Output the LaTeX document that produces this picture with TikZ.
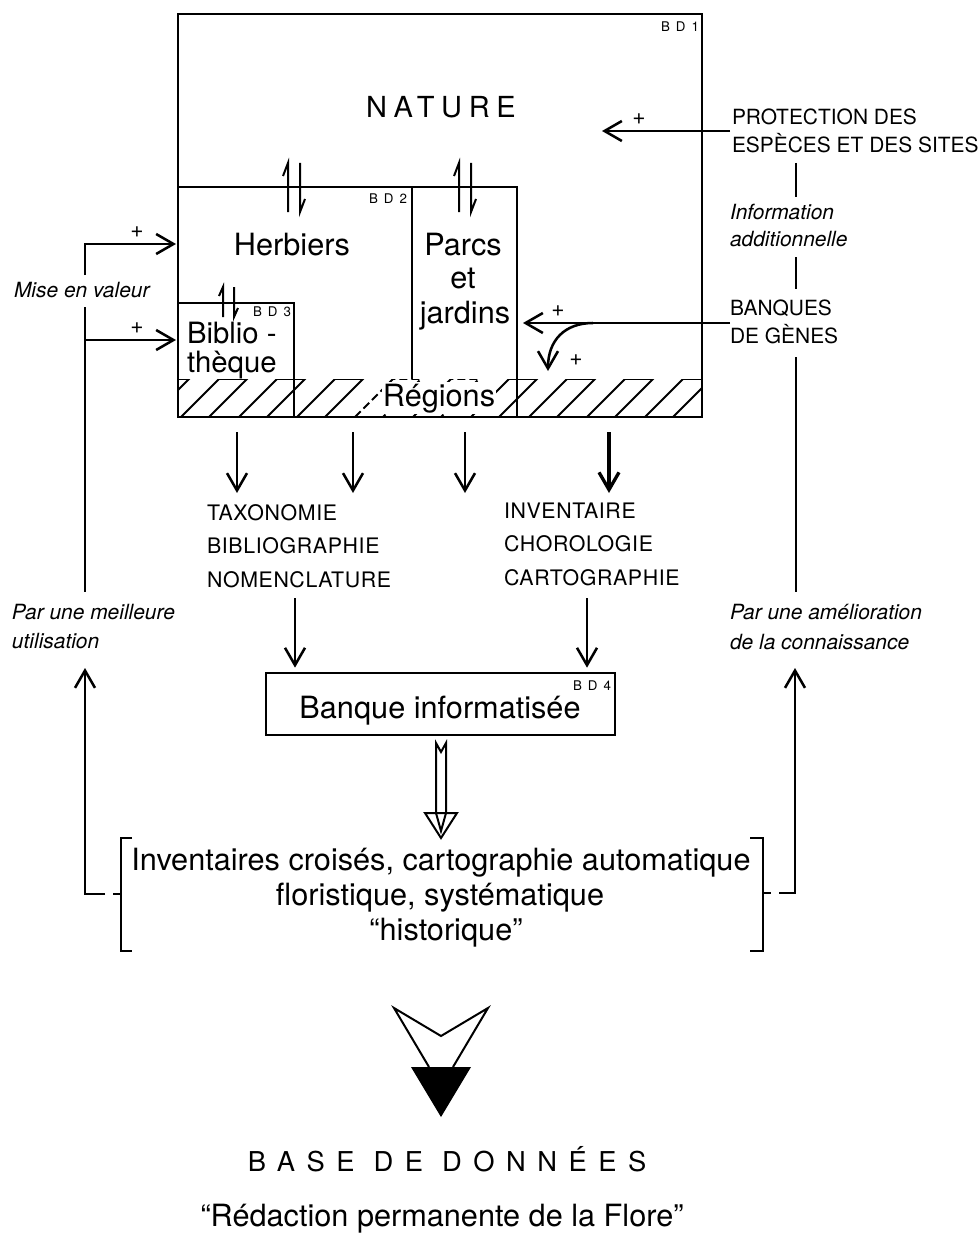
\documentclass[tikz,border=0pt]{standalone}
\usepackage{fontspec}
\setmainfont{TeX Gyre Heros}
\newfontfamily\natfont[LetterSpace=23]{TeX Gyre Heros}
\newfontfamily\basefont[LetterSpace=42]{TeX Gyre Heros}
\newfontfamily\bdfont[LetterSpace=45]{TeX Gyre Heros}
\newfontfamily\capfont[LetterSpace=3]{TeX Gyre Heros}
\usetikzlibrary{arrows.meta}
\tikzset{
  harpln/.style={line width=1.5pt},
  bigharp/.pic={
    \draw[harpln] (-6,25) -- (-6,-24) -- (-11,-11);
    \draw[harpln] (6,-24) -- (6,25) -- (11,12);
  },
  smallharp/.pic={
    \draw[harpln] (-5.5,15) -- (-5.5,-15) -- (-9.5,-6);
    \draw[harpln] (5.5,-15) -- (5.5,15) -- (9.5,6);
  }
}
\begin{document}
\begin{tikzpicture}[x=0.75pt,y=-0.75pt,
  every node/.style={inner sep=0pt, outer sep=0pt},
  body/.style={font=\fontsize{23}{28}\selectfont},
  bibl/.style={font=\fontsize{22}{26}\selectfont, anchor=base west},
  caps/.style={font=\capfont\fontsize{16}{20}\selectfont, anchor=base west},
  capsr/.style={font=\fontsize{15.7}{20}\selectfont, anchor=base west},
  ital/.style={font=\fontsize{15.7}{19}\selectfont\itshape, anchor=base west},
  bdlab/.style={font=\bdfont\fontsize{10}{12}\selectfont, anchor=base east},
  pluslab/.style={font=\fontsize{17}{19}\selectfont},
  boxline/.style={line width=2.1pt},
  ln/.style={line width=1.9pt},
  thinln/.style={line width=1.5pt},
  hatch/.style={line width=1.4pt},
  arr/.style={ln, -{Straight Barb[length=13pt,width=15pt]}},
]
\useasboundingbox (0,0) rectangle (978,1234);

% ---- BD1 / BD2 / BD3 frames
\draw[boxline] (178,14) rectangle (702,417);
\draw[ln] (178,187) -- (517,187) -- (517,417);
\draw[ln] (412,187) -- (412,379);
\draw[ln] (178,303) -- (294,303) -- (294,417);

% ---- hatched band
\begin{scope}
\clip (178,379) rectangle (702,417);
\foreach \a in {161,219,277,335,509,567,625,683}
  \draw[hatch] (\a-38,417) -- (\a,379) -- (\a+28,379) -- (\a-10,417);
\foreach \a in {393,451}
  \draw[hatch,dash pattern=on 6pt off 3pt] (\a-38,417) -- (\a,379) -- (\a+28,379) -- (\a-10,417);
\end{scope}
\node[body, anchor=base, fill=white, inner sep=1pt] (reg) at (439,406) {Régions};

% ---- harpoons
\pic at (294,187) {bigharp};
\pic at (465,187) {bigharp};
\pic at (228.5,302) {smallharp};

% ---- texts in frames
\node[font=\natfont\fontsize{21.75}{26}\selectfont, anchor=base] (nature) at (441,118) {NATURE};
\node[bdlab] (bd1l) at (699,32) {BD1};
\node[bdlab] (bd2l) at (407,204) {BD2};
\node[bdlab] (bd3l) at (291,316) {BD3};
\node[body, anchor=base] (herb) at (292,255) {Herbiers};
\node[body, anchor=base] (parcs) at (463,255) {Parcs};
\node[body, anchor=base] (et) at (463,288) {et};
\node[body, anchor=base] (jard) at (465,323) {jardins};
\node[bibl] (bib1) at (187,343) {Biblio -};
\node[bibl] (bib2) at (187,372) {thèque};

% ---- right side
\node[capsr] (prot1) at (732,125) {PROTECTION DES};
\node[capsr] (prot2) at (732,153) {ESPÈCES ET DES SITES};
\node[ital] (info1) at (730,219) {Information};
\node[ital] (info2) at (730,246) {additionnelle};
\node[capsr] (banq1) at (730,315) {BANQUES};
\node[capsr] (banq2) at (730,343) {DE GÈNES};
\node[ital] (amel1) at (730,619) {Par une amélioration};
\node[ital] (amel2) at (730,649) {de la connaissance};

\coordinate (pa) at (730,131);
\coordinate (pt) at (602,131);
\draw[arr] (pa) -- (pt);
\node[pluslab] (pl1) at (639,119) {+};
\draw[ln] (796,163) -- (796,197);
\draw[ln] (796,257) -- (796,289);

\coordinate (ba) at (730,323);
\coordinate (bt) at (523,323);
\coordinate (bc) at (593,323);
\coordinate (bd) at (548,371);
\draw[arr] (ba) -- (bt);
\draw[arr] (bc) .. controls (565,323) and (548,340) .. (bd);
\node[pluslab] (pl2) at (558,311) {+};
\node[pluslab] (pl3) at (576,360) {+};

\draw[ln] (796,357) -- (796,592);

% ---- left side
\node[ital] (mise) at (14,297) {Mise en valeur};
\node[ital] (meil1) at (12,619) {Par une meilleure};
\node[ital] (meil2) at (12,648) {utilisation};
\draw[arr] (85,275) -- (85,244) -- (176,244);
\draw[ln] (85,307) -- (85,592);
\draw[arr] (85,340) -- (176,340);
\node[pluslab] (pl4) at (137,232) {+};
\node[pluslab] (pl5) at (137,328) {+};

% ---- outputs
\foreach \x in {237,353,465} \draw[arr] (\x,432) -- (\x,493);
\draw[arr, line width=2.5pt] (609,432) -- (609,493);

\node[caps] (tax) at (207,520) {TAXONOMIE};
\node[caps] (bibl) at (207,553) {BIBLIOGRAPHIE};
\node[caps] (nom) at (207,587) {NOMENCLATURE};
\node[caps] (inv) at (504,518) {INVENTAIRE};
\node[caps] (chor) at (504,551) {CHOROLOGIE};
\node[caps] (cart) at (504,585) {CARTOGRAPHIE};

\node[draw, boxline, minimum width=261.75pt, minimum height=46.5pt] (bd4) at (440.5,704) {};
\node[body, anchor=base] (banqi) at (440,718) {Banque informatisée};
\node[bdlab] (bd4l) at (611,690) {BD4};
\coordinate (s1) at (295,598);
\coordinate (s2) at (587,598);
\draw[arr] (s1) -- ([yshift=4pt]s1 |- bd4.north);
\draw[arr] (s2) -- ([yshift=4pt]s2 |- bd4.north);

% ---- hollow arrow
\draw[thinln] (436,813) -- (436,743) -- (441,752) -- (446,743) -- (446,813);
\draw[thinln] (425,813) -- (457,813) -- (441,838) -- cycle;
\draw[thinln] (436,813) -- (441,831) -- (446,813);

% ---- bracketed result
\node[body, anchor=base] (br1) at (441,870) {Inventaires croisés, cartographie automatique};
\node[body, anchor=base] (br2) at (440,905) {floristique, systématique};
\node[body, anchor=base] (br3) at (446,940) {``historique''};
\draw[thinln] (132,838) -- (121,838) -- (121,951) -- (132,951);
\draw[thinln] (750,838) -- (763,838) -- (763,951) -- (750,951);
\draw[thinln] (113,894) -- (121,894);
\draw[thinln] (763,893) -- (771,893);
\draw[arr] (105,894) -- (85,894) -- (85,668);
\draw[arr] (779,893) -- (795,893) -- (795,668);

% ---- final symbol
\draw[thinln, line join=miter] (429,1067) -- (394,1008) -- (441,1036) -- (488,1008) -- (453,1067);
\fill (411,1067) -- (471,1067) -- (441,1117) -- cycle;

\node[font=\basefont\fontsize{20.5}{24}\selectfont, anchor=base] (base) at (447,1171) {BASE DE DONNÉES};
\node[body, anchor=base] (red) at (442,1226) {``Rédaction permanente de la Flore''};
\end{tikzpicture}
\end{document}
